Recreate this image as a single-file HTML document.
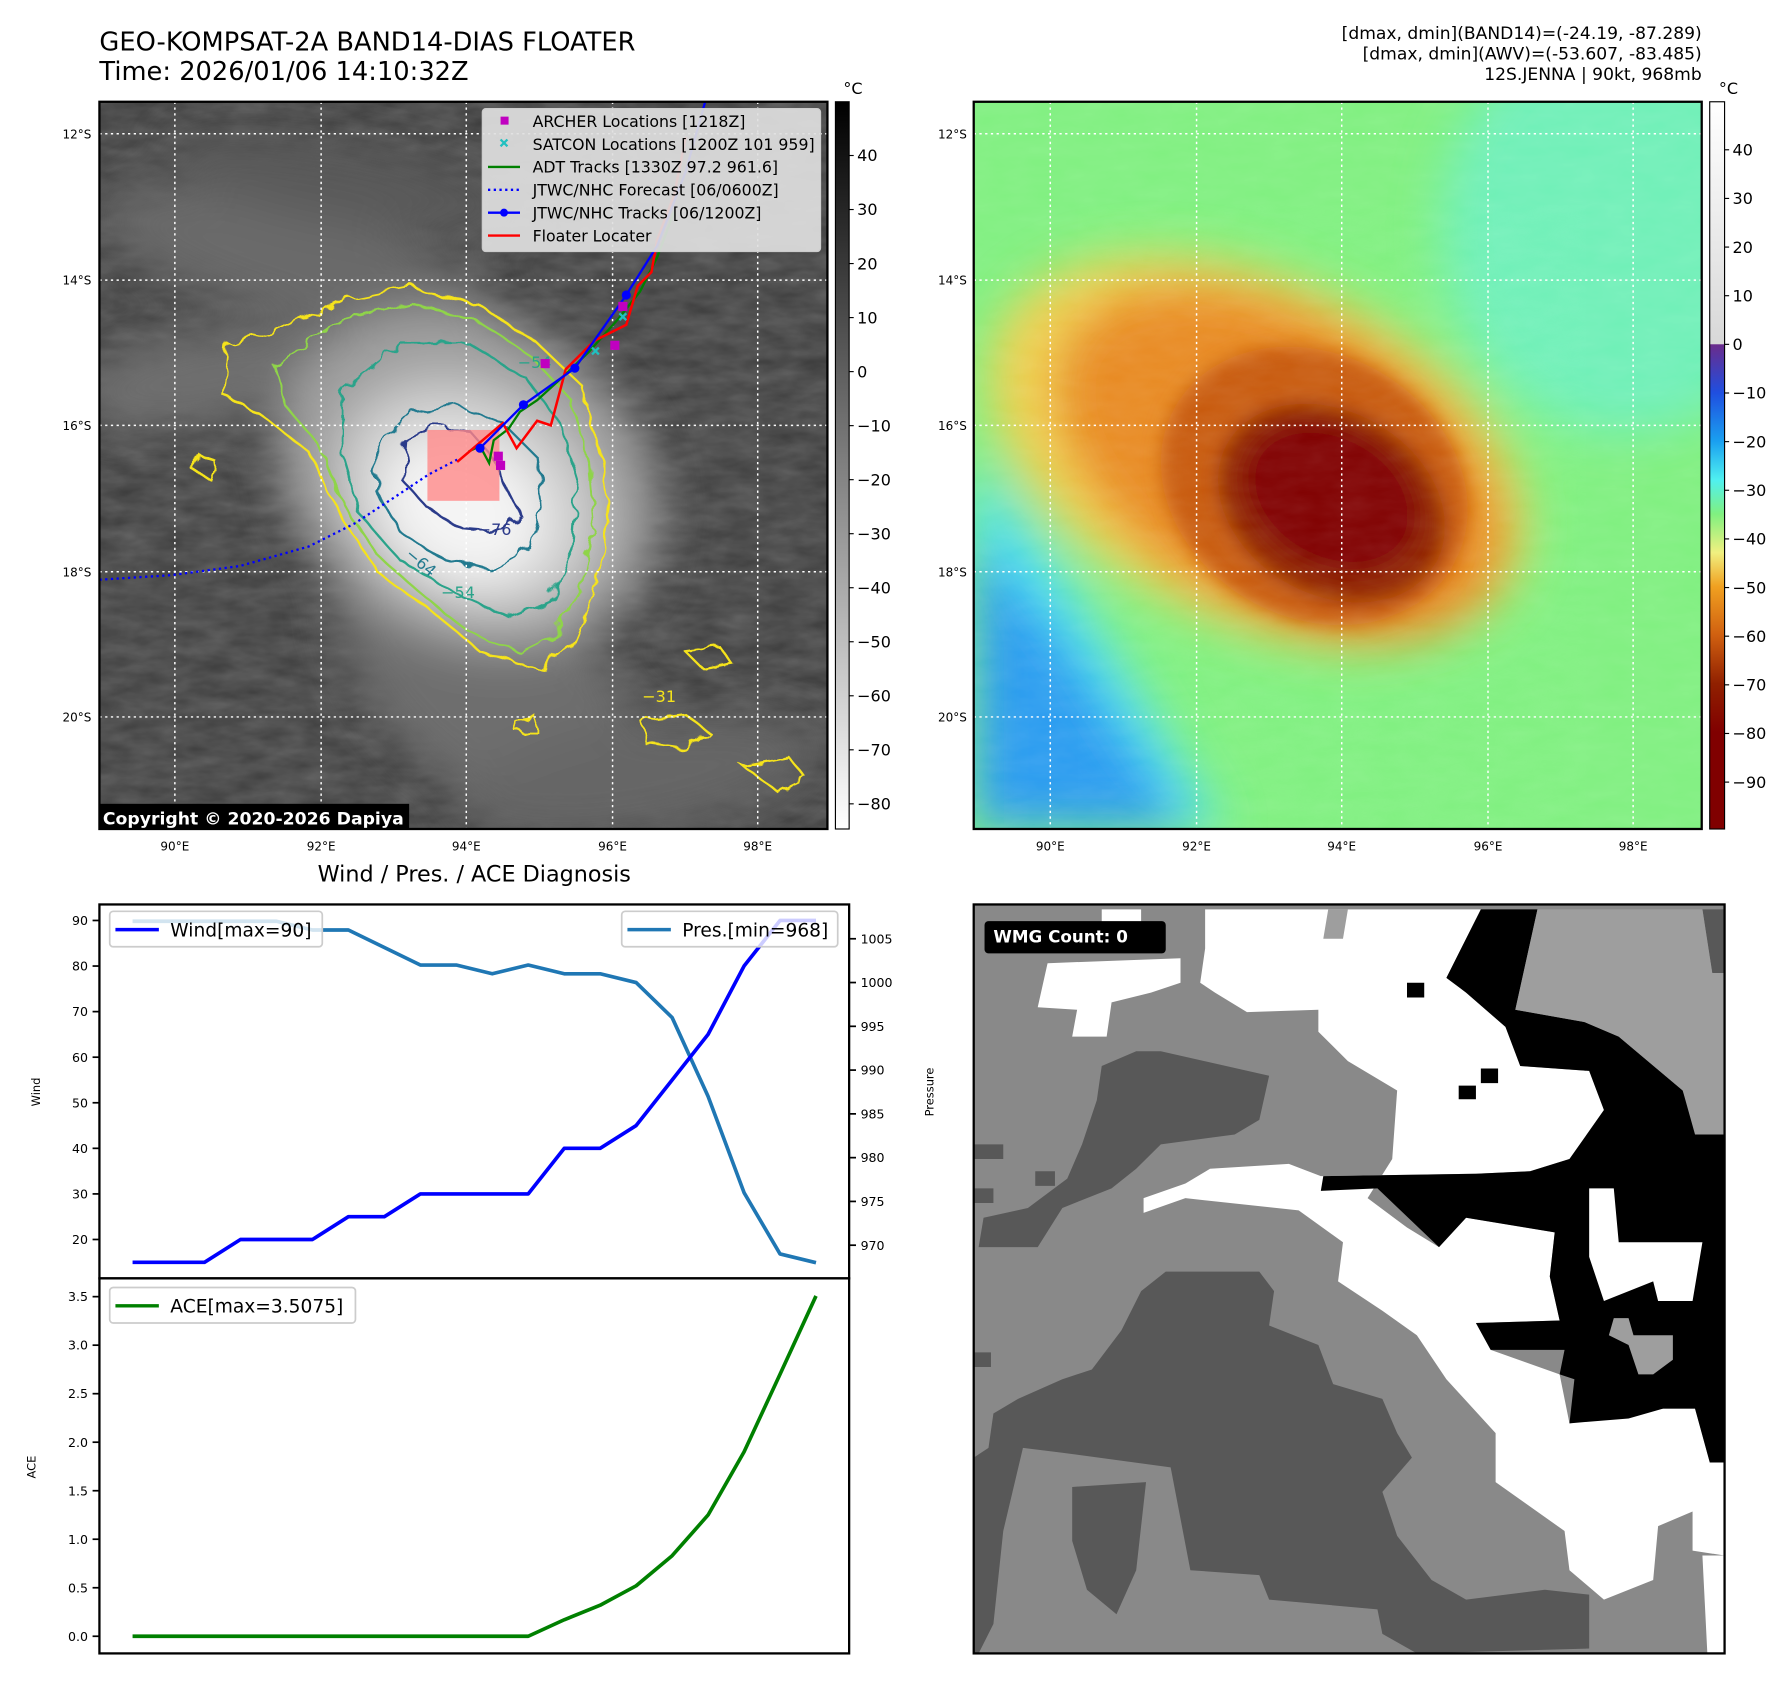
<!DOCTYPE html>
<html><head><meta charset="utf-8"><style>
html,body{margin:0;padding:0;background:#fff}
svg{display:block}
text{font-family:"DejaVu Sans","Liberation Sans",sans-serif}
</style></head><body>
<svg id="fig" width="1792" height="1690" viewBox="0 0 1568 1478" preserveAspectRatio="none" xmlns="http://www.w3.org/2000/svg">
<defs>
<filter id="wig" x="-10%" y="-10%" width="120%" height="120%"><feTurbulence type="fractalNoise" baseFrequency="0.06" numOctaves="2" seed="3"/><feDisplacementMap in="SourceGraphic" scale="14"/></filter>
<filter id="bl8"><feGaussianBlur stdDeviation="8"/></filter>
<filter id="bl20"><feGaussianBlur stdDeviation="20"/></filter>
<filter id="tex" x="0" y="0" width="100%" height="100%"><feTurbulence type="fractalNoise" baseFrequency="0.03 0.08" numOctaves="3" seed="7"/><feColorMatrix type="matrix" values="0 0 0 0 1  0 0 0 0 1  0 0 0 0 1  0 0 0 0.35 0"/></filter>
<linearGradient id="cbGray" x1="0" y1="0" x2="0" y2="1"><stop offset="0" stop-color="#000"/><stop offset="1" stop-color="#fff"/></linearGradient>
<linearGradient id="cbCol" x1="0" y1="0" x2="0" y2="1">
<stop offset="0" stop-color="#ffffff"/><stop offset=".333" stop-color="#d8d8d8"/><stop offset=".334" stop-color="#6a2c8c"/><stop offset=".4" stop-color="#1f4fe0"/><stop offset=".467" stop-color="#1aa0f0"/><stop offset=".52" stop-color="#50f0f0"/><stop offset=".567" stop-color="#80f080"/><stop offset=".62" stop-color="#f0f080"/><stop offset=".667" stop-color="#f0a020"/><stop offset=".733" stop-color="#d06010"/><stop offset=".8" stop-color="#902000"/><stop offset=".867" stop-color="#800000"/><stop offset="1" stop-color="#800000"/></linearGradient>
<clipPath id="cL"><rect x="87" y="89" width="637" height="636"/></clipPath>
<clipPath id="cR"><rect x="852" y="89" width="637" height="636"/></clipPath>
</defs>

<text x="87" y="44" font-size="22.5">GEO-KOMPSAT-2A BAND14-DIAS FLOATER</text>
<text x="87" y="70" font-size="22.5">Time: 2026/01/06 14:10:32Z</text>
<g font-size="15" text-anchor="end">
<text x="1489" y="34">[dmax, dmin](BAND14)=(-24.19, -87.289)</text>
<text x="1489" y="52">[dmax, dmin](AWV)=(-53.607, -83.485)</text>
<text x="1489" y="70">12S.JENNA | 90kt, 968mb</text>
</g>

<g clip-path="url(#cL)">
<rect x="87" y="89" width="637" height="636" fill="#3c3c3c"/>
<rect x="87" y="89" width="637" height="636" filter="url(#tex)" opacity="0.6"/>
<g filter="url(#bl20)">
<ellipse cx="260" cy="230" rx="180" ry="50" fill="#6a6a6a" transform="rotate(15 260 230)"/>
<ellipse cx="300" cy="160" rx="160" ry="35" fill="#5a5a5a" transform="rotate(10 300 160)"/>
<ellipse cx="180" cy="330" rx="120" ry="40" fill="#707070" transform="rotate(-10 180 330)"/>
<ellipse cx="430" cy="600" rx="160" ry="90" fill="#6e6e6e" transform="rotate(40 430 600)"/>
<ellipse cx="560" cy="680" rx="160" ry="50" fill="#666" transform="rotate(-10 560 680)"/>
<ellipse cx="410" cy="420" rx="175" ry="140" fill="#a0a0a0" transform="rotate(30 410 420)"/>
<ellipse cx="410" cy="435" rx="120" ry="95" fill="#d0d0d0" transform="rotate(30 410 435)"/>
<ellipse cx="405" cy="445" rx="75" ry="60" fill="#f4f4f4" transform="rotate(30 405 445)"/>
</g>
<g fill="none" stroke-width="2" filter="url(#wig)">
<path stroke="#f5e31a" d="M200,300 L240,290 300,262 360,250 420,268 470,300 510,338 525,400 532,455 522,512 500,565 470,585 420,570 385,540 330,500 295,445 270,395 225,360 195,345Z"/>
<path stroke="#f5e31a" d="M560,630 L600,625 620,640 600,655 565,650Z M650,670 L690,662 705,680 680,692Z M172,395 L190,405 185,420 170,412Z M450,630 L470,628 470,640 452,640Z M600,570 L630,566 640,580 615,585Z"/>
<path stroke="#8fd44a" d="M240,320 L300,280 360,265 420,282 465,312 500,350 515,405 520,460 508,515 485,555 455,570 410,552 375,525 330,485 300,440 280,390 250,355Z"/>
<path stroke="#2aa38a" d="M300,340 L350,300 410,300 460,330 490,370 505,420 500,480 480,525 445,540 400,520 350,490 315,450 300,400Z"/>
<path stroke="#237a8f" d="M330,390 L360,360 400,355 440,370 470,400 475,440 465,480 430,500 390,490 350,465 330,430Z"/>
<path stroke="#2c3a8a" d="M355,385 L380,372 410,376 430,398 445,430 455,450 440,465 405,462 375,445 352,420Z"/>
</g>
<g font-size="14" fill="#2c3a8a">
<text x="418" y="468">−76</text>
<text x="354" y="486" fill="#237a8f" transform="rotate(40 354 486)">−64</text>
<text x="386" y="523" fill="#2aa38a">−54</text>
<text x="453" y="322" fill="#2aa38a">−54</text>
<text x="562" y="614" fill="#f5e31a">−31</text>
</g>
<g stroke="#fff" stroke-width="1.3" stroke-dasharray="2 3">
<line x1="153" y1="89" x2="153" y2="725"/><line x1="281" y1="89" x2="281" y2="725"/><line x1="408" y1="89" x2="408" y2="725"/><line x1="536" y1="89" x2="536" y2="725"/><line x1="663" y1="89" x2="663" y2="725"/>
<line x1="87" y1="117" x2="724" y2="117"/><line x1="87" y1="245" x2="724" y2="245"/><line x1="87" y1="372" x2="724" y2="372"/><line x1="87" y1="500" x2="724" y2="500"/><line x1="87" y1="627" x2="724" y2="627"/>
</g>
<rect x="374" y="376" width="63" height="62" fill="#ff8a8a" opacity="0.8"/>
<polyline points="87,507 150,503 210,495 270,478 310,458 345,435 375,415 400,402" fill="none" stroke="#0000ff" stroke-width="2" stroke-dasharray="2 3"/>
<polyline points="410,395 420,390 428,405 432,385 445,375 455,360 470,350 492,330 515,308 540,280 560,255 575,225 590,185" fill="none" stroke="#008000" stroke-width="2"/>
<polyline points="400,404 440,370 452,392 470,368 482,372 495,323 520,298 548,284 558,250 570,238 575,210 590,170 600,120" fill="none" stroke="#ff0000" stroke-width="2.2"/>
<polyline points="420,392 458,354 503,322 548,258 575,215 600,150 617,89" fill="none" stroke="#0000ff" stroke-width="2"/>
<g fill="#0000ff"><circle cx="420" cy="392" r="4"/><circle cx="458" cy="354" r="4"/><circle cx="503" cy="322" r="4"/><circle cx="548" cy="258" r="4"/></g>
<g fill="#c000c0"><rect x="473" y="314" width="8" height="8"/><rect x="534" y="298" width="8" height="8"/><rect x="432" y="395" width="8" height="8"/><rect x="434" y="403" width="8" height="8"/><rect x="541" y="264" width="8" height="8"/></g>
<g stroke="#20c0c0" stroke-width="2"><path d="M518,304 l6,6 m0,-6 l-6,6 M542,274 l6,6 m0,-6 l-6,6"/></g>
<rect x="85" y="703" width="273" height="24" fill="#000"/>
<text x="90" y="721" font-size="15.1" font-weight="bold" fill="#fff">Copyright © 2020-2026 Dapiya</text>
</g>
<rect x="87" y="89" width="637" height="636" fill="none" stroke="#000" stroke-width="2"/>
<g>
<rect x="422" y="95" width="296" height="125" rx="3" fill="#e0e0e0" fill-opacity="0.92" stroke="#ccc"/>
<rect x="438" y="102" width="7" height="7" fill="#c000c0"/>
<path d="M438,122 l6,6 m0,-6 l-6,6" stroke="#20c0c0" stroke-width="2"/>
<line x1="427" y1="146" x2="455" y2="146" stroke="#008000" stroke-width="2"/>
<line x1="427" y1="166" x2="455" y2="166" stroke="#0000ff" stroke-width="2" stroke-dasharray="2 3"/>
<line x1="427" y1="186" x2="455" y2="186" stroke="#0000ff" stroke-width="2"/><circle cx="441" cy="186" r="3.5" fill="#0000ff"/>
<line x1="427" y1="206" x2="455" y2="206" stroke="#ff0000" stroke-width="2"/>
<g font-size="13.8"><text x="466" y="111">ARCHER Locations [1218Z]</text><text x="466" y="131">SATCON Locations [1200Z 101 959]</text><text x="466" y="151">ADT Tracks [1330Z 97.2 961.6]</text><text x="466" y="171">JTWC/NHC Forecast [06/0600Z]</text><text x="466" y="191">JTWC/NHC Tracks [06/1200Z]</text><text x="466" y="211">Floater Locater</text></g>
</g>

<g font-size="10.5">
<g text-anchor="middle"><text x="153" y="744">90°E</text><text x="281" y="744">92°E</text><text x="408" y="744">94°E</text><text x="536" y="744">96°E</text><text x="663" y="744">98°E</text>
<text x="919" y="744">90°E</text><text x="1047" y="744">92°E</text><text x="1174" y="744">94°E</text><text x="1302" y="744">96°E</text><text x="1429" y="744">98°E</text></g>
<g text-anchor="end"><text x="80" y="121">12°S</text><text x="80" y="249">14°S</text><text x="80" y="376">16°S</text><text x="80" y="504">18°S</text><text x="80" y="631">20°S</text>
<text x="846" y="121">12°S</text><text x="846" y="249">14°S</text><text x="846" y="376">16°S</text><text x="846" y="504">18°S</text><text x="846" y="631">20°S</text></g>
</g>

<g>
<rect x="731" y="89" width="12" height="636" fill="url(#cbGray)" stroke="#000"/>
<text x="738" y="82" font-size="14">°C</text>
<g font-size="14" id="cbLticks"></g>
</g>
<g clip-path="url(#cR)">
<rect x="852" y="89" width="637" height="636" fill="#80f080"/>
<g filter="url(#bl20)">
<ellipse cx="1420" cy="200" rx="160" ry="180" fill="#6ff0b8"/>
<path d="M852,400 L930,500 1000,610 1070,725 852,725Z" fill="#50e0f0"/>
<path d="M852,470 L930,560 990,650 1040,725 852,725Z" fill="#2c9cf0"/>
<ellipse cx="1100" cy="395" rx="250" ry="150" fill="#f0d050" transform="rotate(25 1100 395)"/>
<ellipse cx="1120" cy="405" rx="215" ry="130" fill="#e88a20" transform="rotate(30 1120 405)"/>
</g>
<g filter="url(#bl8)">
<ellipse cx="1150" cy="425" rx="140" ry="115" fill="#c85a10" transform="rotate(30 1150 425)"/>
<ellipse cx="1165" cy="440" rx="105" ry="80" fill="#902000" transform="rotate(30 1165 440)"/>
<ellipse cx="1165" cy="435" rx="80" ry="60" fill="#800000" transform="rotate(30 1165 435)"/>
</g>
<rect x="852" y="89" width="637" height="636" filter="url(#tex)" opacity="0.25"/>
<g stroke="#fff" stroke-width="1.3" stroke-dasharray="2 3">
<line x1="919" y1="89" x2="919" y2="725"/><line x1="1047" y1="89" x2="1047" y2="725"/><line x1="1174" y1="89" x2="1174" y2="725"/><line x1="1302" y1="89" x2="1302" y2="725"/><line x1="1429" y1="89" x2="1429" y2="725"/>
<line x1="852" y1="117" x2="1489" y2="117"/><line x1="852" y1="245" x2="1489" y2="245"/><line x1="852" y1="372" x2="1489" y2="372"/><line x1="852" y1="500" x2="1489" y2="500"/><line x1="852" y1="627" x2="1489" y2="627"/>
</g>
</g>
<rect x="852" y="89" width="637" height="636" fill="none" stroke="#000" stroke-width="2"/>
<g>
<rect x="1496" y="89" width="13" height="636" fill="url(#cbCol)" stroke="#000"/>
<text x="1504" y="82" font-size="14">°C</text>
<g font-size="14" id="cbRticks"></g>
</g>

<text x="415" y="771" font-size="19.5" text-anchor="middle">Wind / Pres. / ACE Diagnosis</text>
<g id="chart"></g>
<rect x="87" y="791" width="656" height="327" fill="none" stroke="#000" stroke-width="2"/>
<rect x="87" y="1118" width="656" height="328" fill="none" stroke="#000" stroke-width="2"/>
<text font-size="10" transform="translate(35 955) rotate(-90)" text-anchor="middle">Wind</text>
<text font-size="10" transform="translate(817 955) rotate(-90)" text-anchor="middle">Pressure</text>
<text font-size="10" transform="translate(31 1283) rotate(-90)" text-anchor="middle">ACE</text>
<g><rect x="96" y="797" width="186" height="31" rx="3" fill="#fff" fill-opacity="0.8" stroke="#ccc" stroke-width="1.5"/><line x1="101" y1="813" x2="139" y2="813" stroke="#0000ff" stroke-width="3"/><text x="149" y="819" font-size="16.3">Wind[max=90]</text></g>
<g><rect x="544" y="797" width="189" height="31" rx="3" fill="#fff" fill-opacity="0.8" stroke="#ccc" stroke-width="1.5"/><line x1="549" y1="813" x2="587" y2="813" stroke="#1f77b4" stroke-width="3"/><text x="597" y="819" font-size="16.3">Pres.[min=968]</text></g>
<g><rect x="96" y="1126" width="215" height="31" rx="3" fill="#fff" fill-opacity="0.8" stroke="#ccc" stroke-width="1.5"/><line x1="101" y1="1142" x2="139" y2="1142" stroke="#008000" stroke-width="3"/><text x="149" y="1148" font-size="16.3">ACE[max=3.5075]</text></g>

<svg x="852" y="791" width="657" height="655" viewBox="0 0 1525 1530" preserveAspectRatio="none">
<rect width="1525" height="1530" fill="#898989"/>
<g fill="#585858">
<path d="M260,330 330,300 380,300 490,325 600,350 580,440 530,470 380,490 330,540 280,580 180,620 130,700 10,700 20,640 110,620 190,560 220,490 250,400Z"/>
<path d="M0,490 60,490 60,520 0,520Z M0,580 40,580 40,610 0,610Z M0,915 35,915 35,945 0,945Z M125,545 165,545 165,575 125,575Z"/>
<path d="M390,750 580,750 610,790 600,860 700,900 730,980 830,1010 860,1080 890,1130 830,1200 860,1290 930,1380 1000,1420 1160,1400 1250,1410 1250,1520 900,1530 830,1490 820,1440 600,1420 580,1370 440,1360 400,1150 180,1120 100,1110 60,1280 40,1470 10,1530 0,1530 0,1130 30,1110 40,1040 90,1010 180,970 240,950 300,870 340,790Z"/>
<path d="M200,1190 350,1180 330,1360 290,1450 230,1400 200,1300Z M1480,10 1525,10 1525,140 1500,140Z"/>
</g>
<g fill="#fff">
<path d="M470,10 1030,10 960,150 1000,180 1080,250 1110,330 1250,340 1280,420 1210,520 1130,545 1020,550 705,555 640,530 480,540 430,570 345,600 345,630 430,600 660,625 750,690 740,770 830,830 900,880 960,970 1060,1080 1060,1180 1200,1280 1210,1360 1280,1420 1380,1380 1390,1270 1460,1240 1460,1320 1525,1330 1525,1140 1495,1140 1465,1030 1400,1030 1210,1060 1190,960 1050,910 1020,855 1190,850 1170,760 1180,670 1000,640 945,700 880,660 800,600 850,520 860,380 760,320 700,260 700,215 555,220 490,180 460,160 470,90Z"/>
<path d="M150,120 420,110 420,160 360,180 280,200 270,270 200,270 210,215 130,210Z M260,10 340,10 340,40 260,40Z M1480,1330 1525,1330 1525,1530 1490,1530Z"/>
</g>
<g fill="#000">
<path d="M1030,10 1145,10 1100,215 1240,240 1310,270 1440,380 1470,470 1525,470 1525,1140 1495,1140 1465,1030 1400,1030 1330,1050 1210,1060 1220,970 1190,960 1200,910 1050,910 1020,855 1190,850 1170,760 1180,670 1000,640 945,700 820,580 705,585 710,555 1020,550 1130,545 1210,520 1280,420 1250,340 1110,330 1080,250 1000,180 960,150Z"/>
<path d="M880,160 915,160 915,190 880,190Z M1030,335 1065,335 1065,365 1030,365Z M985,370 1020,370 1020,398 985,398Z"/>
</g>
<g fill="#fff"><path d="M1250,580 1300,580 1310,690 1480,690 1460,810 1390,810 1380,770 1280,810 1250,720Z"/></g>
<g fill="#9e9e9e"><path d="M1145,10 1480,10 1500,140 1525,140 1525,470 1465,470 1440,380 1310,270 1240,240 1100,215Z M720,10 760,10 750,70 710,70Z M1300,845 1330,845 1340,880 1420,880 1420,930 1380,960 1350,960 1330,900 1290,880Z"/></g>
<rect x="22" y="34" width="368" height="66" rx="8" fill="#000"/>
<text x="40" y="78" font-size="34" font-weight="bold" fill="#fff" font-family="DejaVu Sans, sans-serif">WMG Count: 0</text>
</svg>
<rect x="852" y="791" width="657" height="655" fill="none" stroke="#000" stroke-width="2"/>

<script>
const hours = [0,1,2,3,4,5,6,7,8,9,10,11,12,13,14,15,16,17,18,19];
const windVals = [15,15,15,20,20,20,25,25,30,30,30,30,40,40,45,55,65,80,90,90];
const presVals = [1007,1007,1007,1007,1007,1006,1006,1004,1002,1002,1001,1002,1001,1001,1000,996,987,976,969,968];
const aceVals = [0,0,0,0,0,0,0,0,0,0,0,0,0.17,0.32,0.52,0.83,1.25,1.9,2.7,3.5075];
const windTicks = [20,30,40,50,60,70,80,90];
const presTicks = [970,975,980,985,990,995,1000,1005];
const aceTicks = [0,0.5,1,1.5,2,2.5,3,3.5];
const cbLTicks = [40,30,20,10,0,-10,-20,-30,-40,-50,-60,-70,-80];
const cbRTicks = [40,30,20,10,0,-10,-20,-30,-40,-50,-60,-70,-80,-90];

const NS='http://www.w3.org/2000/svg';
function xS(i){return 116 + i*(714-116)/(hours.length-1);}
function yW(v){return 805 + (90-v)*(1084-805)/70;}
function yP(p){return 821 + (1005-p)*(1089-821)/35;}
function yA(a){return 1431 - a*(1431-1134)/3.5;}
function yCL(t){return 136 + (40-t)*(703-136)/120;}
function yCR(t){return 131 + (40-t)*(684-131)/130;}
function mk(tag,attrs,parent){const e=document.createElementNS(NS,tag);for(const k in attrs)e.setAttribute(k,attrs[k]);parent.appendChild(e);return e;}
const ch=document.getElementById('chart');
function tick(x1,x2,y,label,anchor,tx,parent){
  const l=mk('line',{x1:x1,x2:x2,y1:y,y2:y,stroke:'#000','stroke-width':1.5},parent);
  
  
  const t=mk('text',{x:tx,y:y+4,'font-size':11,'text-anchor':anchor},parent);
  t.textContent=label;
  
  
}
windTicks.forEach(v=>tick(81,87,yW(v),v,'end',77,ch));
presTicks.forEach(v=>tick(743,749,yP(v),v,'start',753,ch));
aceTicks.forEach(v=>tick(81,87,yA(v),v.toFixed(1),'end',77,ch));
function line(vals,yf,color,name){
  const p=mk('polyline',{points:vals.map((v,i)=>xS(i)+','+yf(v)).join(' '),fill:'none',stroke:color,'stroke-width':3.2,'stroke-linejoin':'round'},ch);
  
  
}
line(presVals,yP,'#1f77b4','pressure-line');
line(windVals,yW,'#0000ff','wind-line');
line(aceVals,yA,'#008000','ace-line');
const gL=document.getElementById('cbLticks');
cbLTicks.forEach(t=>{
  mk('line',{x1:743,x2:747,y1:yCL(t),y2:yCL(t),stroke:'#000'},gL);
  const e=mk('text',{x:750,y:yCL(t)+5},gL);e.textContent=(t<0?'\u2212'+(-t):t);
  
  
});
const gR=document.getElementById('cbRticks');
cbRTicks.forEach(t=>{
  mk('line',{x1:1509,x2:1513,y1:yCR(t),y2:yCR(t),stroke:'#000'},gR);
  const e=mk('text',{x:1516,y:yCR(t)+5},gR);e.textContent=(t<0?'\u2212'+(-t):t);
  
  
});
</script>
</svg>
</body></html>
